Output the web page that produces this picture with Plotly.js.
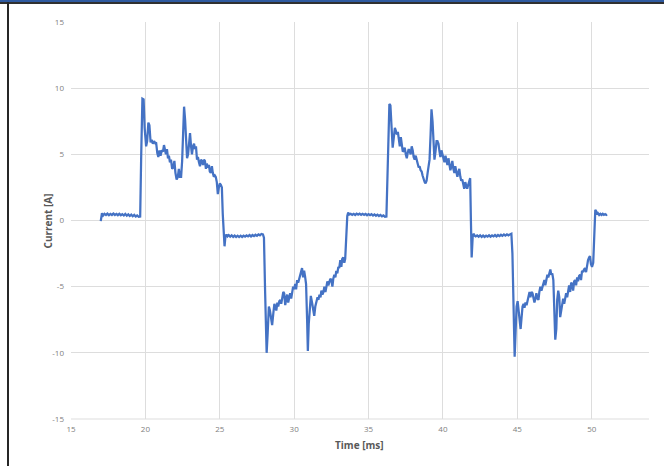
<!DOCTYPE html>
<html>
<head>
<meta charset="utf-8">
<script src="https://cdn.plot.ly/plotly-3.0.1.min.js"></script>
<style>
html,body{margin:0;padding:0;background:#fff;}
#wrap{position:relative;width:664px;height:466px;overflow:hidden;}
#chart{position:absolute;left:0;top:0;width:664px;height:466px;}
#topbar{position:absolute;left:0;top:0;width:664px;height:2px;background:#2f5aa0;}
#topline{position:absolute;left:0;top:2px;width:664px;height:1.5px;background:#303030;}
#leftline{position:absolute;left:7px;top:2px;width:2px;height:464px;background:#262626;}
</style>
</head>
<body>
<div id="wrap">
<div id="chart"></div>
<div id="topbar"></div>
<div id="topline"></div>
<div id="leftline"></div>
</div>
<script>
// Time [ms]
var timeMs = [
17.00,17.08,17.16,17.25,17.35,17.45,17.55,17.65,17.75,17.85,17.95,18.05,18.15,18.25,18.35,18.45,18.55,18.65,18.75,18.85,18.95,19.05,19.15,19.25,19.35,19.45,19.55,19.65,
19.72,19.80,19.88,19.95,20.05,20.12,20.20,20.27,20.35,20.42,20.50,20.58,20.66,20.72,20.80,20.87,20.95,21.02,21.10,21.18,21.25,21.32,21.38,21.45,21.52,21.58,21.65,21.72,21.80,21.87,21.95,22.02,22.10,22.18,22.25,22.32,22.40,22.47,22.53,22.60,22.67,22.74,22.80,22.87,22.94,23.00,23.07,23.13,23.20,23.27,23.33,23.40,23.47,23.53,23.60,23.67,23.74,23.80,23.87,23.94,24.00,24.07,24.13,24.20,24.27,24.33,24.40,24.47,24.53,24.60,24.67,24.73,24.80,24.87,24.94,25.00,25.07,25.14,25.20,25.27,25.32,25.38,25.45,25.52,
25.60,25.70,25.80,25.90,26.00,26.10,26.20,26.30,26.40,26.50,26.60,26.70,26.80,26.90,27.00,27.10,27.20,27.30,27.40,27.50,27.60,27.70,27.80,27.90,27.97,
28.05,28.15,28.22,28.30,28.37,28.45,28.52,28.60,28.67,28.73,28.80,28.87,28.93,29.00,29.07,29.13,29.20,29.27,29.33,29.40,29.47,29.53,29.60,29.67,29.73,29.80,29.87,29.93,30.00,30.07,30.13,30.20,30.27,30.33,30.40,30.47,30.53,30.60,30.67,30.73,30.80,30.87,30.92,30.98,31.05,31.12,31.20,31.27,31.35,31.42,31.50,31.57,31.63,31.70,31.77,31.83,31.90,31.97,32.03,32.10,32.17,32.23,32.30,32.37,32.43,32.50,32.57,32.63,32.70,32.77,32.83,32.90,32.97,33.03,33.10,33.17,33.23,33.30,33.37,33.43,33.50,33.57,33.63,33.70,
33.80,33.90,34.00,34.10,34.20,34.30,34.40,34.50,34.60,34.70,34.80,34.90,35.00,35.10,35.20,35.30,35.40,35.50,35.60,35.70,35.80,35.90,36.00,36.10,36.20,
36.30,36.40,36.47,36.55,36.62,36.70,36.77,36.83,36.90,36.97,37.03,37.10,37.17,37.23,37.30,37.37,37.43,37.50,37.57,37.63,37.70,37.77,37.83,37.90,37.97,38.03,38.10,38.17,38.23,38.30,38.37,38.43,38.50,38.57,38.63,38.70,38.77,38.83,38.90,38.97,39.03,39.10,39.17,39.23,39.30,39.37,39.43,39.50,39.57,39.63,39.70,39.77,39.83,39.90,39.97,40.03,40.10,40.17,40.23,40.30,40.37,40.43,40.50,40.57,40.63,40.70,40.77,40.83,40.90,40.97,41.03,41.10,41.17,41.23,41.30,41.37,41.43,41.50,41.57,41.63,41.70,41.77,41.83,41.88,41.93,42.00,42.07,42.13,
42.20,42.30,42.40,42.50,42.60,42.70,42.80,42.90,43.00,43.10,43.20,43.30,43.40,43.50,43.60,43.70,43.80,43.90,44.00,44.10,44.20,44.30,44.40,44.50,44.60,
44.67,44.75,44.82,44.88,44.95,45.02,45.08,45.15,45.22,45.28,45.35,45.42,45.48,45.55,45.62,45.68,45.75,45.82,45.88,45.95,46.02,46.08,46.15,46.22,46.28,46.35,46.42,46.48,46.55,46.62,46.68,46.75,46.82,46.88,46.95,47.02,47.08,47.15,47.22,47.28,47.35,47.42,47.48,47.55,47.62,47.68,47.75,47.82,47.88,47.95,48.02,48.08,48.15,48.22,48.28,48.35,48.42,48.48,48.55,48.62,48.68,48.75,48.82,48.88,48.95,49.02,49.08,49.15,49.22,49.28,49.35,49.42,49.48,49.55,49.62,49.68,49.75,49.82,49.88,49.95,50.02,50.10,50.17,50.24,
50.30,50.36,50.42,50.50,50.58,50.66,50.74,50.82,50.90,50.98,51.04
];
// Current [A]
var currentA = [
-0.05,0.55,0.38,0.50,0.42,0.52,0.40,0.50,0.42,0.52,0.42,0.50,0.40,0.50,0.40,0.48,0.38,0.50,0.36,0.46,0.34,0.44,0.32,0.42,0.30,0.38,0.28,0.30,
5.0,9.2,9.15,7.0,5.6,6.0,7.4,7.2,5.9,6.1,5.8,6.0,5.85,5.9,5.1,4.8,5.3,4.9,5.3,5.2,5.7,5.2,5.0,5.4,4.7,4.9,4.4,4.6,3.9,4.0,4.5,3.6,3.1,3.3,3.9,3.3,3.3,4.5,7.0,8.6,7.6,5.5,4.7,5.0,6.2,6.6,5.6,5.0,5.6,5.8,5.4,5.6,4.6,4.8,4.4,4.1,4.6,4.5,4.2,4.6,4.5,3.9,4.3,4.0,4.2,3.7,3.6,4.1,3.6,3.3,3.4,3.3,2.9,2.0,2.5,2.8,2.7,2.5,0.5,-1.5,-1.95,-1.2,-1.05,-1.2,
-1.10,-1.22,-1.12,-1.24,-1.14,-1.25,-1.15,-1.25,-1.15,-1.24,-1.14,-1.22,-1.12,-1.20,-1.10,-1.20,-1.10,-1.18,-1.08,-1.16,-1.05,-1.12,-1.02,-1.05,-1.3,
-5.5,-10.0,-8.5,-6.5,-6.8,-7.5,-7.9,-7.0,-6.3,-6.5,-6.8,-6.2,-6.5,-6.1,-6.0,-6.3,-5.8,-5.4,-5.5,-6.4,-5.9,-5.6,-6.2,-5.8,-5.5,-5.9,-5.4,-5.0,-5.2,-4.8,-5.2,-4.5,-4.7,-4.4,-4.2,-3.7,-3.6,-4.3,-3.8,-4.2,-4.8,-7.5,-9.85,-7.8,-6.3,-5.7,-6.2,-6.6,-7.2,-6.5,-6.1,-5.8,-6.0,-5.6,-5.8,-5.3,-5.6,-5.4,-5.0,-5.4,-5.0,-4.6,-4.9,-4.6,-4.4,-4.5,-5.0,-4.4,-4.1,-4.3,-3.8,-4.0,-3.5,-3.6,-3.0,-3.5,-2.9,-2.8,-3.2,-2.9,-1.0,0.35,0.6,0.45,
0.50,0.42,0.50,0.42,0.52,0.44,0.52,0.43,0.50,0.42,0.50,0.40,0.48,0.40,0.48,0.38,0.46,0.36,0.44,0.34,0.42,0.32,0.38,0.28,0.30,
4.0,8.8,8.7,6.5,5.5,6.3,7.0,6.8,6.5,6.7,6.0,5.6,6.3,5.8,5.2,5.3,5.5,5.0,4.7,5.1,5.4,5.2,5.0,5.6,5.3,4.8,4.6,4.9,4.5,4.3,4.0,4.1,3.8,3.7,3.4,3.1,2.9,2.8,3.0,3.6,4.0,4.6,6.5,8.4,7.5,5.5,4.6,5.2,6.0,6.0,5.8,5.2,4.8,5.3,5.0,4.6,4.4,4.9,4.5,4.2,4.7,4.4,3.8,4.1,4.5,3.9,3.6,4.1,3.7,3.3,3.6,3.9,3.3,3.0,3.1,2.5,2.4,2.9,2.5,2.4,2.7,3.1,3.2,0.0,-2.8,-1.2,-1.0,-1.15,
-1.20,-1.12,-1.22,-1.12,-1.24,-1.14,-1.24,-1.14,-1.22,-1.12,-1.22,-1.12,-1.20,-1.10,-1.20,-1.10,-1.18,-1.08,-1.16,-1.06,-1.14,-1.05,-1.12,-1.05,-1.00,
-2.5,-7.5,-10.3,-8.5,-6.5,-6.1,-6.6,-7.6,-8.2,-7.4,-6.5,-6.3,-6.6,-6.2,-6.4,-6.1,-5.6,-5.4,-5.8,-5.4,-5.5,-5.8,-6.2,-5.9,-5.5,-5.9,-6.0,-5.4,-5.0,-5.3,-5.1,-4.7,-4.5,-4.9,-4.6,-4.1,-4.3,-3.9,-3.7,-4.1,-4.0,-4.5,-7.0,-9.0,-8.2,-6.0,-5.3,-5.8,-7.3,-6.7,-6.0,-5.9,-6.3,-5.6,-5.5,-5.8,-5.1,-4.9,-5.4,-4.7,-4.8,-5.3,-4.6,-4.5,-4.9,-4.3,-4.6,-4.2,-4.1,-4.5,-3.8,-3.9,-3.7,-3.6,-3.9,-3.3,-3.0,-2.8,-2.7,-3.3,-3.5,-3.2,-1.0,0.8,
0.70,0.45,0.55,0.42,0.50,0.42,0.50,0.42,0.48,0.42,0.45
];
var xTicks = [15,20,25,30,35,40,45,50];
var yTicks = [-15,-10,-5,0,5,10,15];
var xTitle = 'Time [ms]';
var yTitle = 'Current [A]';

var trace = {
  x: timeMs, y: currentA, type: 'scatter', mode: 'lines',
  line: {color: '#4472C4', width: 2.25, shape: 'linear'},
  hoverinfo: 'skip', showlegend: false
};
var titleFont = {family: '"Open Sans", "Noto Sans", sans-serif', size: 10, color: '#595959', weight: 'bold'};
var layout = {
  width: 664, height: 466,
  margin: {l: 71, r: 15, t: 22, b: 47, pad: 0},
  paper_bgcolor: '#ffffff', plot_bgcolor: '#ffffff',
  font: {family: '"Open Sans", "Noto Sans", sans-serif', color: '#595959', size: 8},
  xaxis: {
    range: [15, 53.85], tickvals: xTicks, ticktext: xTicks.map(String),
    showgrid: true, gridcolor: '#dddddd', gridwidth: 1,
    zeroline: false, showline: false, ticks: '',
    tickfont: {size: 8, color: '#808080'}, ticklabelstandoff: 4,
    fixedrange: true
  },
  yaxis: {
    range: [-15, 15], tickvals: yTicks, ticktext: yTicks.map(String),
    showgrid: true, gridcolor: '#dddddd', gridwidth: 1,
    zeroline: false, showline: false, ticks: '',
    tickfont: {size: 8, color: '#808080'}, ticklabelstandoff: 6,
    fixedrange: true
  },
  annotations: [
    {text: xTitle, xref: 'paper', yref: 'paper', x: 0.4983, y: -0.0655, xanchor: 'center', yanchor: 'middle', showarrow: false, font: titleFont},
    {text: yTitle, xref: 'paper', yref: 'paper', x: -0.0398, y: 0.5, xanchor: 'center', yanchor: 'middle', textangle: -90, showarrow: false, font: titleFont}
  ],
  shapes: [
    {type: 'line', xref: 'paper', yref: 'paper', x0: 0, x1: 1, y0: 0, y1: 0, line: {color: '#dddddd', width: 1}, layer: 'below'}
  ]
};
Plotly.newPlot('chart', [trace], layout, {staticPlot: true, displayModeBar: false});
</script>
</body>
</html>
